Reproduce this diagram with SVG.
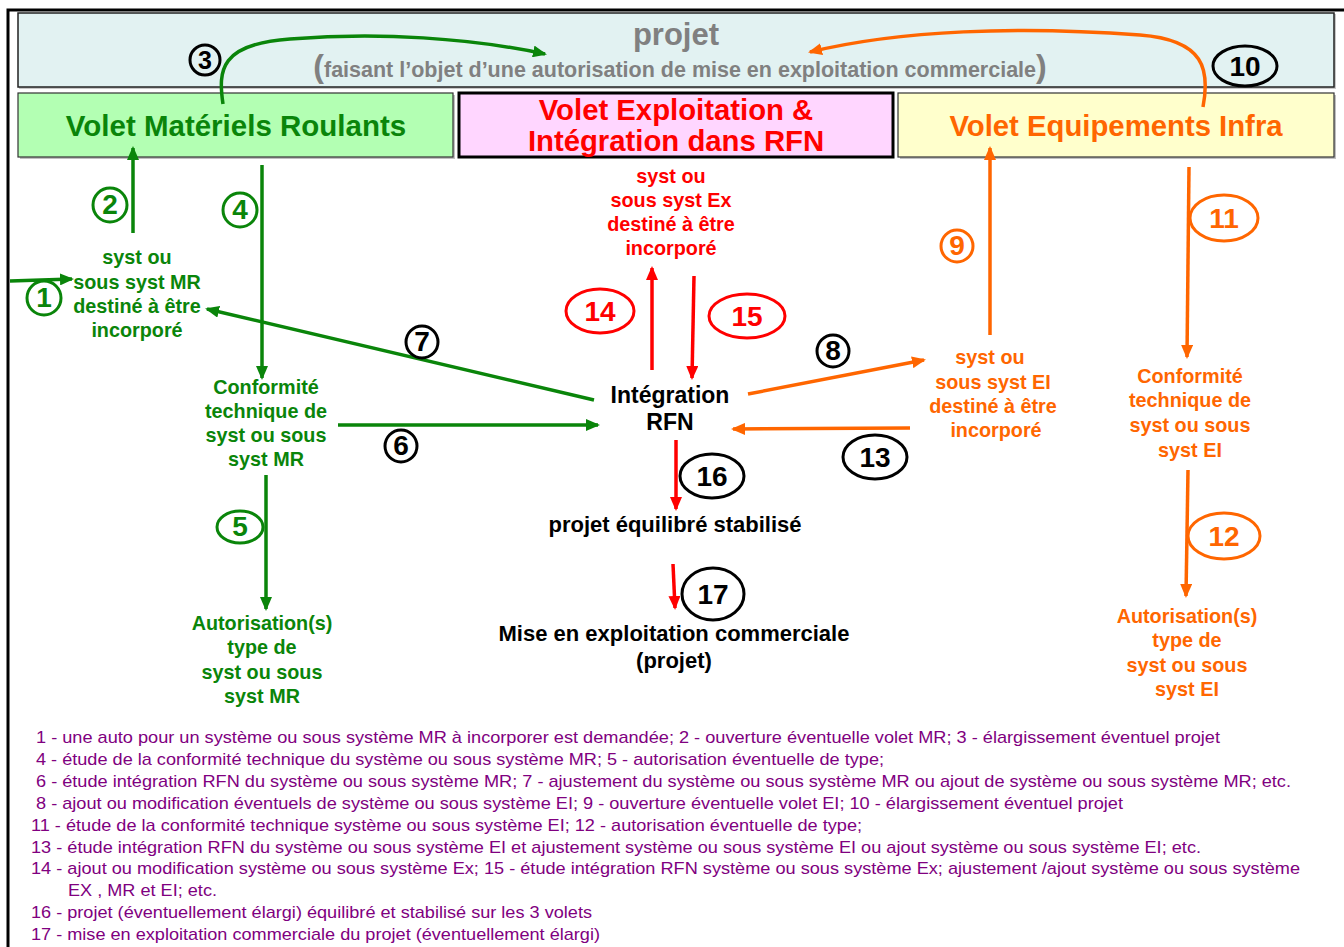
<svg xmlns="http://www.w3.org/2000/svg" width="1344" height="947" viewBox="0 0 1344 947">
<style>
text{font-family:"Liberation Sans",Arial,sans-serif;font-weight:bold}
.g{fill:#0a850a}.r{fill:#ff0000}.o{fill:#ff6600}.k{fill:#000}
.mid{text-anchor:middle}
.node{font-size:19.8px}
.lg{font-weight:normal;font-size:17px;fill:#800080}
.ln{fill:none;stroke-width:3.5}
.lg-g{stroke:#0a850a}.lr{stroke:#ff0000}.lo{stroke:#ff6600}
.lab{fill:none;stroke-width:3}
.num{font-size:28px;text-anchor:middle}
</style>
<defs>
<marker id="ag" markerWidth="14" markerHeight="12" refX="12" refY="6" orient="auto" markerUnits="userSpaceOnUse"><path d="M0,0 L14,6 L0,12 z" fill="#0a850a"/></marker>
<marker id="ar" markerWidth="14" markerHeight="12" refX="12" refY="6" orient="auto" markerUnits="userSpaceOnUse"><path d="M0,0 L14,6 L0,12 z" fill="#ff0000"/></marker>
<marker id="ao" markerWidth="14" markerHeight="12" refX="12" refY="6" orient="auto" markerUnits="userSpaceOnUse"><path d="M0,0 L14,6 L0,12 z" fill="#ff6600"/></marker>
</defs>
<rect width="1344" height="947" fill="#fff"/>
<path d="M8,947 V10 H1344" fill="none" stroke="#000" stroke-width="3"/>

<g id="projet">
<rect x="19" y="14" width="1317" height="75" fill="#c8c8c8"/>
<rect x="18" y="13" width="1316" height="74" fill="#e2f2f2" stroke="#222" stroke-width="1.5"/>
<text x="676" y="45" class="mid" font-size="31" fill="#808080">projet</text>
<text x="680" y="77" class="mid" font-size="21.5" fill="#808080"><tspan font-size="32">(</tspan>faisant l’objet d’une autorisation de mise en exploitation commerciale<tspan font-size="32">)</tspan></text>
</g>

<g id="volet-mr">
<rect x="20" y="95" width="435" height="64" fill="#c0c0c0"/>
<rect x="18" y="93" width="435" height="64" fill="#b3ffb3" stroke="#333" stroke-width="1.2"/>
<text x="236" y="136" class="mid g" font-size="29.5">Volet Matériels Roulants</text>
</g>

<g id="volet-ex">
<rect x="459" y="93" width="434" height="64" fill="#ffd6ff" stroke="#000" stroke-width="3"/>
<text x="676" y="120" class="mid r" font-size="29.3">Volet Exploitation &amp;</text>
<text x="676" y="151" class="mid r" font-size="29.3">Intégration dans RFN</text>
</g>

<g id="volet-ei">
<rect x="900" y="95" width="436" height="64" fill="#c0c0c0"/>
<rect x="898" y="93" width="436" height="64" fill="#ffffcc" stroke="#333" stroke-width="1.2"/>
<text x="1116" y="136" class="mid o" font-size="29.3">Volet Equipements Infra</text>
</g>

<g id="mr-syst">
<text class="mid g node" x="137"><tspan x="137" y="264">syst ou</tspan><tspan x="137" y="289">sous syst MR</tspan><tspan x="137" y="313">destiné à être</tspan><tspan x="137" y="337">incorporé</tspan></text>
</g>
<g id="mr-conf">
<text class="mid g node" x="266"><tspan x="266" y="394">Conformité</tspan><tspan x="266" y="418">technique de</tspan><tspan x="266" y="442">syst ou sous</tspan><tspan x="266" y="466">syst MR</tspan></text>
</g>
<g id="mr-auto">
<text class="mid g node" x="262"><tspan x="262" y="630">Autorisation(s)</tspan><tspan x="262" y="654">type de</tspan><tspan x="262" y="679">syst ou sous</tspan><tspan x="262" y="703">syst MR</tspan></text>
</g>
<g id="ex-syst">
<text class="mid r node" x="671"><tspan x="671" y="183">syst ou</tspan><tspan x="671" y="207">sous syst Ex</tspan><tspan x="671" y="231">destiné à être</tspan><tspan x="671" y="255">incorporé</tspan></text>
</g>
<g id="integration">
<text class="mid k" font-size="23" x="670"><tspan x="670" y="403">Intégration</tspan><tspan x="670" y="430">RFN</tspan></text>
</g>
<g id="stabilise">
<text class="mid k" font-size="22" x="675" y="532">projet équilibré stabilisé</text>
</g>
<g id="mise">
<text class="mid k" font-size="22" x="674"><tspan x="674" y="641">Mise en exploitation commerciale</tspan><tspan x="674" y="668">(projet)</tspan></text>
</g>
<g id="ei-syst">
<text class="mid o node" x="993"><tspan x="990" y="364">syst ou</tspan><tspan x="993" y="389">sous syst EI</tspan><tspan x="993" y="413">destiné à être</tspan><tspan x="996" y="437">incorporé</tspan></text>
</g>
<g id="ei-conf">
<text class="mid o node" x="1190"><tspan x="1190" y="383">Conformité</tspan><tspan x="1190" y="407">technique de</tspan><tspan x="1190" y="432">syst ou sous</tspan><tspan x="1190" y="457">syst  EI</tspan></text>
</g>
<g id="ei-auto">
<text class="mid o node" x="1187"><tspan x="1187" y="623">Autorisation(s)</tspan><tspan x="1187" y="647">type de</tspan><tspan x="1187" y="672">syst ou sous</tspan><tspan x="1187" y="696">syst EI</tspan></text>
</g>

<g id="connectors">
<path class="ln lg-g" d="M223,104 C218,70 220,44 290,39 C380,32 470,38 545,54" marker-end="url(#ag)"/>
<path class="ln lo" d="M1203,107 C1210,70 1205,40 1140,35 C1020,26 900,30 810,52" marker-end="url(#ao)"/>
<path class="ln lg-g" d="M133,233 V148" marker-end="url(#ag)"/>
<path class="ln lg-g" d="M10,281 L72,279" marker-end="url(#ag)"/>
<path class="ln lg-g" d="M262,165 V378" marker-end="url(#ag)"/>
<path class="ln lg-g" d="M594,400 L207,309" marker-end="url(#ag)"/>
<path class="ln lg-g" d="M338,425 H598" marker-end="url(#ag)"/>
<path class="ln lg-g" d="M266,475 V609" marker-end="url(#ag)"/>
<path class="ln lr" d="M652,370 V268" marker-end="url(#ar)"/>
<path class="ln lr" d="M694,276 L692,378" marker-end="url(#ar)"/>
<path class="ln lr" d="M676,440 V509" marker-end="url(#ar)"/>
<path class="ln lr" d="M673,564 L675,608" marker-end="url(#ar)"/>
<path class="ln lo" d="M748,394 L924,360" marker-end="url(#ao)"/>
<path class="ln lo" d="M990,335 V148" marker-end="url(#ao)"/>
<path class="ln lo" d="M910,428 L733,429" marker-end="url(#ao)"/>
<path class="ln lo" d="M1189,167 L1187,357" marker-end="url(#ao)"/>
<path class="ln lo" d="M1188,470 L1186,596" marker-end="url(#ao)"/>
</g>

<g id="labels">
<circle cx="205" cy="60" r="15" class="lab" stroke="#000" stroke-width="3.5"/><text x="205" y="69" class="k" text-anchor="middle" font-size="25">3</text>
<ellipse cx="1245" cy="66" rx="32" ry="20" class="lab" stroke="#000"/><text x="1245" y="76" class="num k">10</text>
<circle cx="110" cy="205" r="17" class="lab" stroke="#0a850a"/><text x="110" y="214" class="num g" font-size="26">2</text>
<circle cx="44" cy="298" r="17" class="lab" stroke="#0a850a"/><text x="44" y="307" class="num g" font-size="26">1</text>
<circle cx="240" cy="210" r="17" class="lab" stroke="#0a850a"/><text x="240" y="219" class="num g" font-size="26">4</text>
<circle cx="422" cy="342" r="16" class="lab" stroke="#000" stroke-width="3.5"/><text x="422" y="351" class="num k" font-size="26">7</text>
<circle cx="401" cy="446" r="16" class="lab" stroke="#000" stroke-width="3.5"/><text x="401" y="455" class="num k" font-size="26">6</text>
<ellipse cx="240" cy="527" rx="23" ry="16" class="lab" stroke="#0a850a"/><text x="240" y="536" class="num g" font-size="26">5</text>
<ellipse cx="600" cy="311" rx="34" ry="22" class="lab" stroke="#ff0000"/><text x="600" y="321" class="num r">14</text>
<ellipse cx="747" cy="316" rx="38" ry="22" class="lab" stroke="#ff0000"/><text x="747" y="326" class="num r">15</text>
<ellipse cx="712" cy="476" rx="32" ry="22" class="lab" stroke="#000"/><text x="712" y="486" class="num k">16</text>
<ellipse cx="713" cy="594" rx="31" ry="26" class="lab" stroke="#000"/><text x="713" y="604" class="num k">17</text>
<circle cx="833" cy="351" r="16" class="lab" stroke="#000" stroke-width="3.5"/><text x="833" y="360" class="num k" font-size="26">8</text>
<circle cx="957" cy="246" r="16" class="lab" stroke="#ff6600"/><text x="957" y="255" class="num o" font-size="26">9</text>
<ellipse cx="875" cy="457" rx="32" ry="22" class="lab" stroke="#000"/><text x="875" y="467" class="num k">13</text>
<ellipse cx="1224" cy="218" rx="34" ry="23" class="lab" stroke="#ff6600"/><text x="1224" y="228" class="num o">11</text>
<ellipse cx="1224" cy="536" rx="36" ry="23" class="lab" stroke="#ff6600"/><text x="1224" y="546" class="num o">12</text>
</g>

<g id="legend">
<text class="lg" x="36" y="743" textLength="1184" lengthAdjust="spacingAndGlyphs">1 - une auto pour un système ou sous système MR à incorporer est demandée; 2 - ouverture éventuelle volet MR; 3 - élargissement éventuel projet</text>
<text class="lg" x="36" y="765" textLength="848" lengthAdjust="spacingAndGlyphs">4 - étude de la conformité technique du système ou sous système MR; 5 - autorisation éventuelle de type;</text>
<text class="lg" x="36" y="787" textLength="1255" lengthAdjust="spacingAndGlyphs">6 - étude intégration RFN du système ou sous système MR; 7 - ajustement du système ou sous système MR ou ajout de système ou sous système MR; etc.</text>
<text class="lg" x="36" y="809" textLength="1087" lengthAdjust="spacingAndGlyphs">8 - ajout ou modification éventuels de système ou sous système EI; 9 - ouverture éventuelle volet EI; 10 - élargissement éventuel projet</text>
<text class="lg" x="31" y="831" textLength="831" lengthAdjust="spacingAndGlyphs">11 - étude de la conformité technique système ou sous système EI; 12 - autorisation éventuelle de type;</text>
<text class="lg" x="31" y="853" textLength="1170" lengthAdjust="spacingAndGlyphs">13 - étude intégration RFN du système ou sous système EI et ajustement système ou sous système EI ou ajout système ou sous système EI; etc.</text>
<text class="lg" x="31" y="874" textLength="1269" lengthAdjust="spacingAndGlyphs">14 - ajout ou modification système ou sous système Ex; 15 - étude intégration RFN système ou sous système Ex; ajustement /ajout système ou sous système</text>
<text class="lg" x="68" y="896" textLength="149" lengthAdjust="spacingAndGlyphs">EX , MR et EI; etc.</text>
<text class="lg" x="31" y="918" textLength="561" lengthAdjust="spacingAndGlyphs">16 - projet (éventuellement élargi) équilibré et stabilisé sur les 3 volets</text>
<text class="lg" x="31" y="940" textLength="569" lengthAdjust="spacingAndGlyphs">17 - mise en exploitation commerciale du projet (éventuellement élargi)</text>
</g>
</svg>
